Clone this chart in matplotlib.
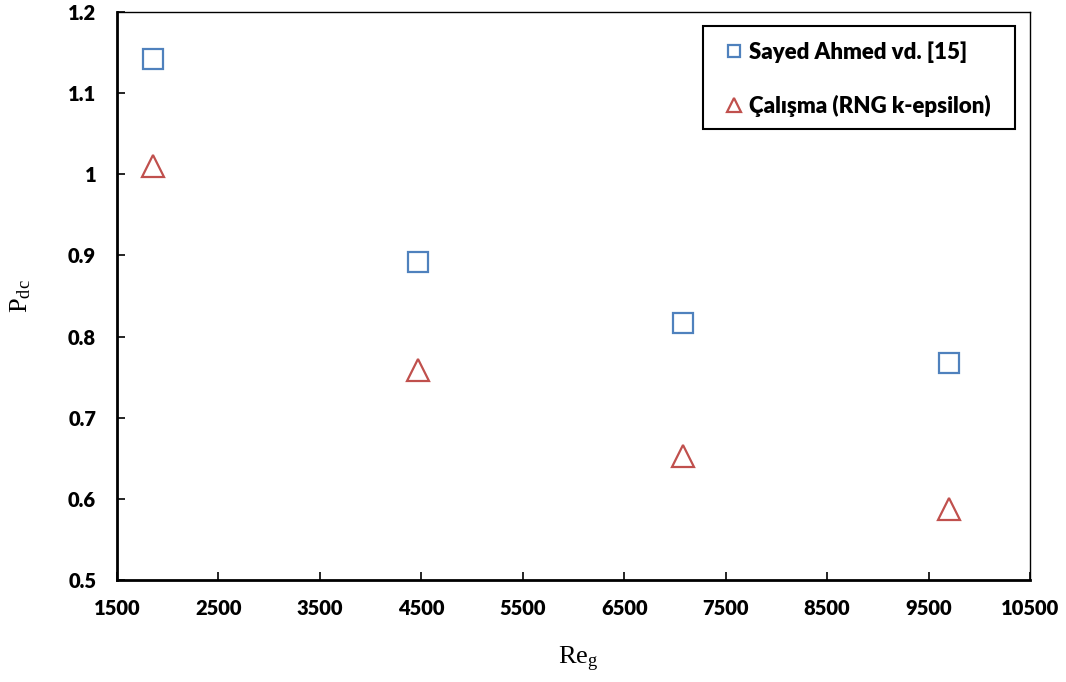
import matplotlib
matplotlib.use("Agg")
import matplotlib.pyplot as plt
from matplotlib.font_manager import FontProperties
from matplotlib.patches import Rectangle

# Reynolds number of the gas and dimensionless pressure drop
re_g = [1850, 4470, 7080, 9700]
p_sayed = [1.142, 0.892, 0.817, 0.767]
p_rng = [1.010, 0.759, 0.653, 0.588]

x_ticks = [1500, 2500, 3500, 4500, 5500, 6500, 7500, 8500, 9500, 10500]
y_ticks = [0.5, 0.6, 0.7, 0.8, 0.9, 1.0, 1.1, 1.2]
y_labels = ['0.5', '0.6', '0.7', '0.8', '0.9', '1', '1.1', '1.2']

blue = '#4F81BD'
red = '#C0504D'

fig = plt.figure(figsize=(10.66, 6.82), dpi=100)
ax = fig.add_axes([0.1098, 0.1496, 0.8564, 0.8328])

ax.plot(re_g, p_sayed, linestyle='none', marker='s', markersize=14,
        markerfacecolor='none', markeredgecolor=blue, markeredgewidth=1.6,
        label='Sayed Ahmed vd. [15]')
ax.plot(re_g, p_rng, linestyle='none', marker='^', markersize=15.5,
        markerfacecolor='none', markeredgecolor=red, markeredgewidth=1.6,
        label='Çalışma (RNG k-epsilon)')

ax.set_xlim(1500, 10500)
ax.set_ylim(0.5, 1.2)
ax.set_xticks(x_ticks)
ax.set_yticks(y_ticks)
ax.set_yticklabels(y_labels)

tick_font = FontProperties(family='Lato', weight='heavy', size=14.5)
for lab in ax.get_xticklabels() + ax.get_yticklabels():
    lab.set_fontproperties(tick_font)

ax.tick_params(direction='in', length=6, width=1.2, colors='black')
ax.tick_params(axis='x', pad=14)
ax.tick_params(axis='y', pad=15)
ax.spines['left'].set_linewidth(2)
ax.spines['bottom'].set_linewidth(2)
ax.spines['top'].set_linewidth(1)
ax.spines['right'].set_linewidth(1)

ax.set_xlabel(r'$\mathregular{Re_g}$', family='Liberation Serif', size=19)
ax.set_ylabel(r'$\mathregular{P_{dc}}$', family='Liberation Serif', size=19)
ax.xaxis.set_label_coords(0.505, -0.115)
ax.yaxis.set_label_coords(-0.092, 0.5)

# legend box drawn separately so it can have wider side margins
ax.add_patch(Rectangle((0.642, 0.794), 0.3416, 0.181, transform=ax.transAxes,
                       facecolor='white', edgecolor='black', linewidth=1.5,
                       zorder=4, clip_on=False))
leg = ax.legend(loc='center left', bbox_to_anchor=(0.669, 0.882), markerscale=0.65,
                handlelength=0.6, handletextpad=0.35, labelspacing=1.45,
                borderpad=0, borderaxespad=0, frameon=False,
                prop=FontProperties(family='Lato', weight='heavy', size=16))
leg.set_zorder(5)

fig.savefig('out.png', dpi=100)
